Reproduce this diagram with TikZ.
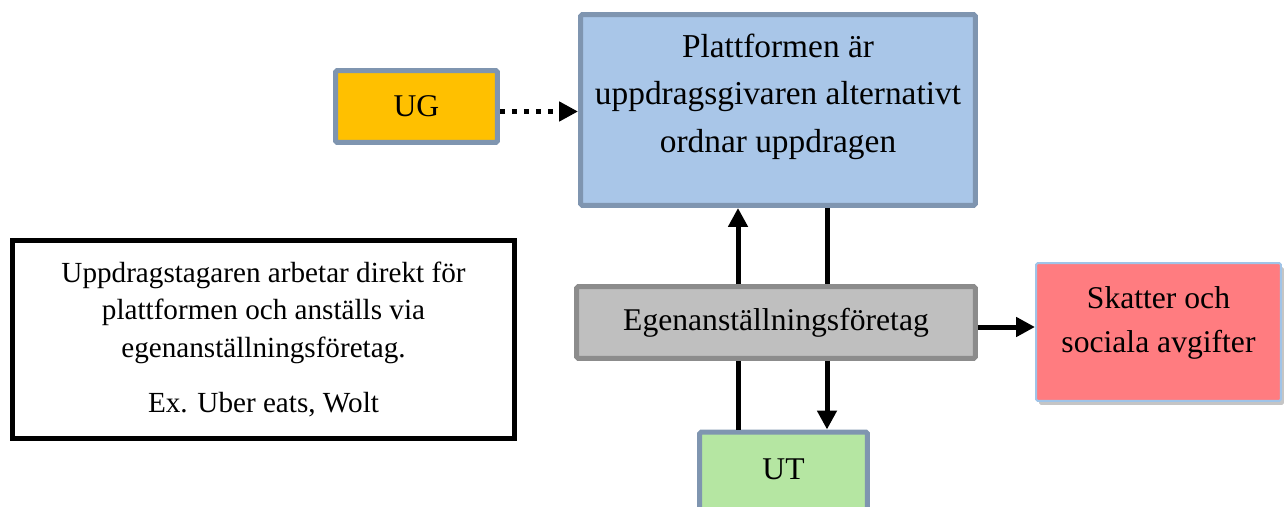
\documentclass[tikz,border=0pt]{standalone}
\usepackage{fontspec}
\setmainfont{Liberation Serif}
\usetikzlibrary{arrows.meta,shadows}
\definecolor{boxline}{HTML}{7F95B0}
\definecolor{ugfill}{HTML}{FFC000}
\definecolor{platfill}{HTML}{A9C6E8}
\definecolor{egenfill}{HTML}{BFBFBF}
\definecolor{egenline}{HTML}{8C8C8C}
\definecolor{utfill}{HTML}{B5E6A2}
\definecolor{skatfill}{HTML}{FF7C80}
\definecolor{skatline}{HTML}{A0C4E8}
\begin{document}
\begin{tikzpicture}[x=0.02cm,y=-0.02cm,
        box/.style={draw=boxline, line width=0.1cm, rounded corners=1pt, align=center, inner sep=0pt},
        conn/.style={line width=0.1cm},
        arr/.style={-{Triangle[length=0.38cm,width=0.38cm]}}]
        \useasboundingbox (0,0) rectangle (1286,507);
        % boxes
        \node [box, fill=ugfill, minimum width=3.24cm, minimum height=1.44cm, font=\fontsize{18pt}{22pt}\selectfont] (ug) at (416.5,106.5) {UG};
        \node [box, fill=platfill, minimum width=7.9cm, minimum height=3.82cm,
               label={[align=center, yshift=0.27cm, font=\fontsize{19pt}{27pt}\selectfont]center:Plattformen är\\uppdragsgivaren alternativt\\ordnar uppdragen}] (plat) at (778,110) {};
        \node [box, draw=egenline, fill=egenfill, minimum width=7.98cm, minimum height=1.44cm, font=\fontsize{18pt}{22pt}\selectfont] (egen) at (776,322.5) {Egenanställningsföretag};
        \node [box, draw=skatline, line width=0.04cm, fill=skatfill, minimum width=4.9cm, minimum height=2.76cm,
               drop shadow={shadow xshift=0.06cm, shadow yshift=-0.08cm, fill=black!45},
               label={[align=center, yshift=0.19cm, font=\fontsize{18pt}{25pt}\selectfont]center:Skatter och\\sociala avgifter}] (skat) at (1158.5,332) {};
        \node [box, fill=utfill, minimum width=3.36cm, minimum height=1.6cm, font=\fontsize{18pt}{22pt}\selectfont] (ut) at (783.5,472) {\raisebox{0.12cm}{UT}};
        \node [box, draw=black, rounded corners=0pt, minimum width=10.04cm, minimum height=3.96cm, font=\fontsize{16.6pt}{21.5pt}\selectfont] (info) at (263.5,339.5) {Uppdragstagaren arbetar direkt för\\plattformen och anställs via\\egenanställningsföretag.\\[0.35cm]Ex. Uber eats, Wolt};
        % connectors
        \coordinate (lx) at (738,0);
        \coordinate (rx) at (827,0);
        \draw [conn, line width=0.12cm, arr, dash pattern=on 0.11cm off 0.13cm] ([yshift=-0.1cm]ug.east) -- ([yshift=-0.1cm]ug.east -| plat.west);
        \draw [conn, arr] (egen.north -| lx) -- (plat.south -| lx);
        \draw [conn] (plat.south -| rx) -- (egen.north -| rx);
        \draw [conn] (ut.north -| lx) -- (egen.south -| lx);
        \draw [conn, arr] (egen.south -| rx) -- (ut.north -| rx);
        \draw [conn, arr] ([yshift=-0.09cm]egen.east) -- ([yshift=-0.09cm]egen.east -| skat.west);
\end{tikzpicture}
\end{document}
